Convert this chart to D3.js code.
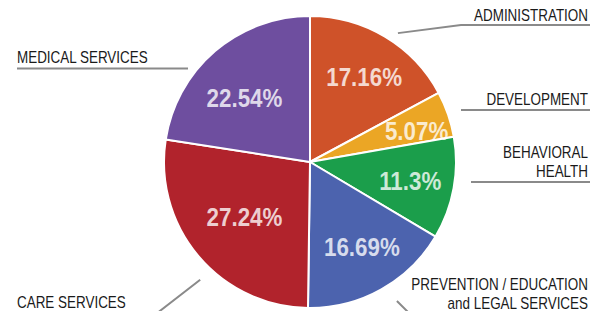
<!DOCTYPE html>
<html>
<head>
<meta charset="utf-8">
<script src="https://cdn.jsdelivr.net/npm/d3@7"></script>
<style>
  html, body { margin: 0; padding: 0; background: #fff; }
  svg { display: block; }
</style>
</head>
<body>
<svg id="chart" width="604" height="311"></svg>
<script>
// Budget shares, clockwise from 12 o'clock
const categories = ['ADMINISTRATION', 'DEVELOPMENT', 'BEHAVIORAL HEALTH',
  'PREVENTION / EDUCATION and LEGAL SERVICES', 'CARE SERVICES', 'MEDICAL SERVICES']
const values = [17.16, 5.07, 11.3, 16.69, 27.24, 22.54]
const colors = ['#cf5229', '#eba625', '#1b9e4b', '#4c63ae', '#b1232c', '#6e4e9f']

// Outside label text, split into rows
const labelLines = [
  ['ADMINISTRATION'],
  ['DEVELOPMENT'],
  ['BEHAVIORAL', 'HEALTH'],
  ['PREVENTION / EDUCATION', 'and LEGAL SERVICES'],
  ['CARE SERVICES'],
  ['MEDICAL SERVICES']
]

const W = 604, H = 311
const cx = 310, cy = 162, R = 146
const rad = d => d * Math.PI / 180
// no narrow face installed, so squeeze Liberation Sans horizontally
const FONT = '"Liberation Sans", Arial, sans-serif'
const SQUEEZE = 0.82

// Label placement (Sheets-style outside labels with underline + leader)
// leader: [angle deg, radius] on the pie side, elbow: where the underline starts
const layout = [
  { side: 'right', pct: [32.4, 101], leader: [34.3, 156], elbow: [461, 25], base: 21.5 },
  { side: 'right', pct: [73.8, 111], leader: null, elbow: [461, 110], base: 105.5 },
  { side: 'right', pct: [100.8, 102], leader: null, elbow: [471, 182], base: 177 },
  { side: 'right', pct: [148.4, 99], leader: [148, 164], elbow: [410, 314], base: 309 },
  { side: 'left', pct: [230.4, 85], leader: [223, 161], elbow: [156, 314], base: 307.7 },
  { side: 'left', pct: [314.6, 92], leader: null, elbow: [188, 68.5], base: 63 }
]

const svg = d3.select('#chart')
const g = svg.append('g').attr('transform', `translate(${cx},${cy})`)

const pie = d3.pie().sort(null).value(d => d)
const arcs = pie(values)
const arc = d3.arc().innerRadius(0).outerRadius(R)

g.selectAll('path.slice')
  .data(arcs)
  .join('path')
  .attr('class', 'slice')
  .attr('d', arc)
  .attr('fill', (d, i) => colors[i])
  .attr('stroke', '#fff')
  .attr('stroke-width', 2)
  .attr('stroke-linejoin', 'round')

// point on a circle, angle clockwise from top
const polar = (deg, r) => d3.pointRadial(rad(deg), r)

// percentage labels inside slices
g.selectAll('text.pct')
  .data(arcs)
  .join('text')
  .attr('class', 'pct')
  .attr('transform', (d, i) => {
    const [x, y] = polar(layout[i].pct[0], layout[i].pct[1])
    return `translate(${x},${y}) scale(0.86,1)`
  })
  .attr('text-anchor', 'middle')
  .attr('dy', '0.36em')
  .style('font-family', FONT)
  .style('font-weight', 'bold')
  .style('font-size', '26px')
  .style('fill', '#fff')
  .style('fill-opacity', 0.78)
  .text(d => d.data + '%')

// leader lines + underline
const lineGen = d3.line()
const labels = svg.append('g')

layout.forEach((L, i) => {
  const pts = []
  if (L.leader) {
    const [x, y] = polar(L.leader[0], L.leader[1])
    pts.push([cx + x, cy + y])
  }
  pts.push(L.elbow)
  const lx = L.side === 'right' ? 590 : 17
  pts.push([lx, L.elbow[1]])

  labels.append('path')
    .attr('d', lineGen(pts))
    .attr('fill', 'none')
    .attr('stroke', '#8a8a8a')
    .attr('stroke-width', 2)

  const tx = L.side === 'right' ? 588 : 17
  const rows = labelLines[i]
  const t = labels.append('text')
    .attr('transform', `translate(${tx},0) scale(${SQUEEZE},1)`)
    .attr('text-anchor', L.side === 'right' ? 'end' : 'start')
    .style('font-family', FONT)
    .style('font-size', '16.4px')
    .style('fill', '#1a1a1a')
  rows.forEach((row, j) => {
    t.append('tspan')
      .attr('x', 0)
      .attr('y', L.base - (rows.length - 1 - j) * 19)
      .text(row)
  })
})
</script>
</body>
</html>
